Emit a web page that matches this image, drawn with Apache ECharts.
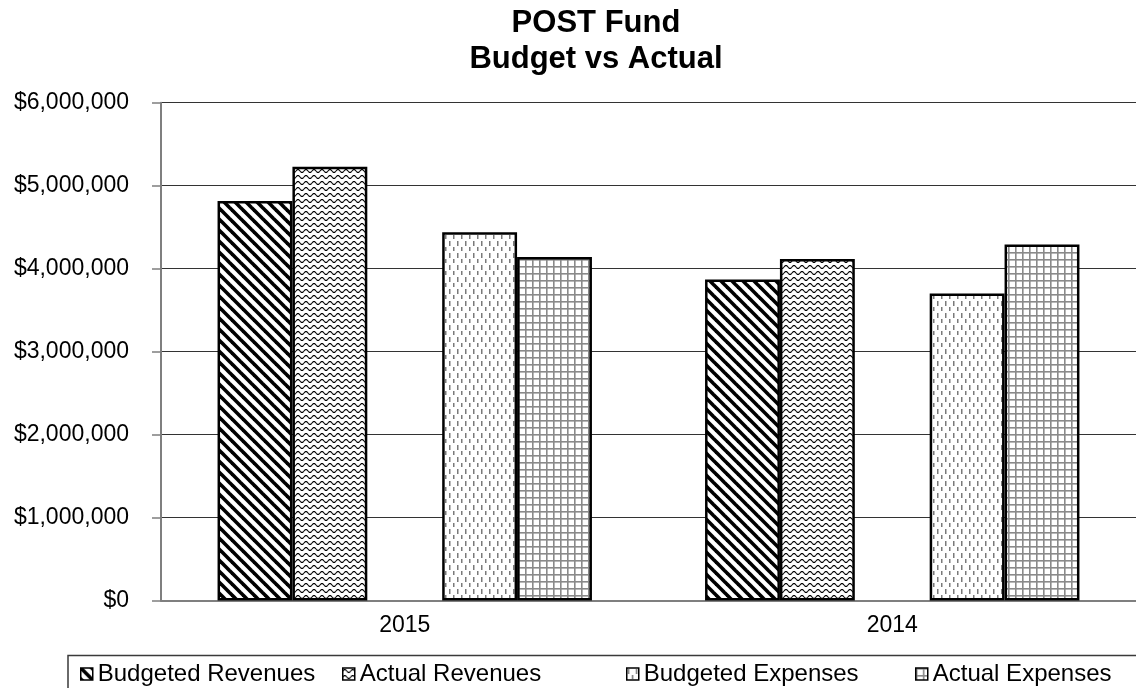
<!DOCTYPE html>
<html>
<head>
<meta charset="utf-8">
<script src="https://cdn.jsdelivr.net/npm/echarts@6/dist/echarts.min.js"></script>
<style>html,body{margin:0;padding:0;background:#fff}#c{width:1136px;height:688px}</style>
</head>
<body>
<div id="c"></div>
<script>
const categories = ['2015', '2014'];
const budgetedRevenues = [4815000, 3868000];
const actualRevenues = [5228000, 4115000];
const budgetedExpenses = [4440000, 3700000];
const actualExpenses = [4140000, 4290000];
const yTicks = { min: 0, max: 6000000, interval: 1000000 };
const title1 = 'POST Fund';
const title2 = 'Budget vs Actual';

function pattern(w, h, draw) {
  const c = document.createElement('canvas');
  c.width = w; c.height = h;
  const g = c.getContext('2d');
  g.fillStyle = '#fff'; g.fillRect(0, 0, w, h);
  draw(g);
  return { image: c, repeat: 'repeat' };
}
const pDiag = pattern(11, 11, g => {
  g.strokeStyle = '#000'; g.lineWidth = 3.6;
  [-11, 0, 11].forEach(k => { g.beginPath(); g.moveTo(k - 3, -3); g.lineTo(k + 14, 14); g.stroke(); });
});
const pWave = pattern(8, 6, g => {
  g.strokeStyle = '#000'; g.lineWidth = 1.1;
  g.beginPath();
  for (let x = -1; x <= 9; x += 0.5) {
    const y = 3 - 1.5 * Math.sin(2 * Math.PI * x / 8);
    if (x === -1) g.moveTo(x, y); else g.lineTo(x, y);
  }
  g.stroke();
});
const pDash = pattern(8, 12, g => {
  g.fillStyle = '#7a7a7a';
  g.fillRect(1, 1, 1.5, 5);
  g.fillRect(5, 7, 1.5, 4);
});
const pGrid = pattern(7, 7, g => {
  g.fillStyle = '#8a8a8a';
  g.fillRect(0, 0, 7, 1.6);
  g.fillRect(0, 0, 1.6, 7);
});

const FONT = 'Liberation Sans, Arial, sans-serif';
const barStyle = (c) => ({ color: c, borderColor: '#000', borderWidth: 2.5 });

// title placement: each line centred at x = 596
const TITLE_SIZE = 31;
const TITLE_CX = 596;
const mctx = document.createElement('canvas').getContext('2d');
mctx.font = 'bold ' + TITLE_SIZE + 'px "Liberation Sans"';
function titleLine(text, top) {
  const w = mctx.measureText(text).width;
  return {
    text: text, left: TITLE_CX - w / 2, top: top, padding: 0,
    textStyle: { fontFamily: FONT, fontSize: TITLE_SIZE, fontWeight: 'bold', color: '#000' }
  };
}

const chart = echarts.init(document.getElementById('c'), null, { renderer: 'canvas' });
function legendAt(name, left) {
  return {
    data: [name], left: left, top: 662, padding: 0, orient: 'horizontal',
    itemWidth: 12, itemHeight: 12, icon: 'rect', itemGap: 5,
    itemStyle: { borderWidth: 1.5, borderColor: '#000' },
    textStyle: { fontFamily: FONT, fontSize: 24, color: '#000', lineHeight: 24 },
    selectedMode: false
  };
}
chart.setOption({
  animation: false,
  backgroundColor: '#fff',
  title: [titleLine(title1, 8), titleLine(title2, 44)],
  legend: [
    legendAt('Budgeted Revenues', 80),
    legendAt('Actual Revenues', 342),
    legendAt('Budgeted Expenses', 626),
    legendAt('Actual Expenses', 915)
  ],
  graphic: [{
    type: 'rect', shape: { x: 68, y: 655.5, width: 1200, height: 100 },
    style: { fill: 'none', stroke: '#3a3a3a', lineWidth: 1.5 }, silent: true, z: 0
  }],
  grid: { left: 161, top: 102.7, width: 980, height: 497.8, containLabel: false },
  xAxis: {
    type: 'category', data: categories,
    axisLine: { show: true, lineStyle: { color: '#7f7f7f', width: 2 } },
    axisTick: { show: false },
    axisLabel: { fontFamily: FONT, fontSize: 23, color: '#000', margin: 14 }
  },
  yAxis: {
    type: 'value', min: yTicks.min, max: yTicks.max, interval: yTicks.interval,
    axisLine: { show: true, lineStyle: { color: '#7f7f7f', width: 2 } },
    axisTick: { show: true, length: 9, lineStyle: { color: '#7f7f7f', width: 1.5 } },
    splitLine: { show: true, lineStyle: { color: '#333', width: 1.2 } },
    axisLabel: {
      fontFamily: FONT, fontSize: 23, color: '#000', margin: 32,
      formatter: v => '$' + v.toLocaleString('en-US')
    }
  },
  series: [
    { name: 'Budgeted Revenues', type: 'bar', data: budgetedRevenues, itemStyle: barStyle(pDiag), barGap: '0%', barCategoryGap: '23.2%' },
    { name: 'Actual Revenues', type: 'bar', data: actualRevenues, itemStyle: barStyle(pWave), barGap: '0%', barCategoryGap: '23.2%' },
    { name: 'blank', type: 'bar', data: categories.map(() => '-'), barGap: '0%', barCategoryGap: '23.2%' },
    { name: 'Budgeted Expenses', type: 'bar', data: budgetedExpenses, itemStyle: barStyle(pDash), barGap: '0%', barCategoryGap: '23.2%' },
    { name: 'Actual Expenses', type: 'bar', data: actualExpenses, itemStyle: barStyle(pGrid), barGap: '0%', barCategoryGap: '23.2%' }
  ]
});
</script>
</body>
</html>
